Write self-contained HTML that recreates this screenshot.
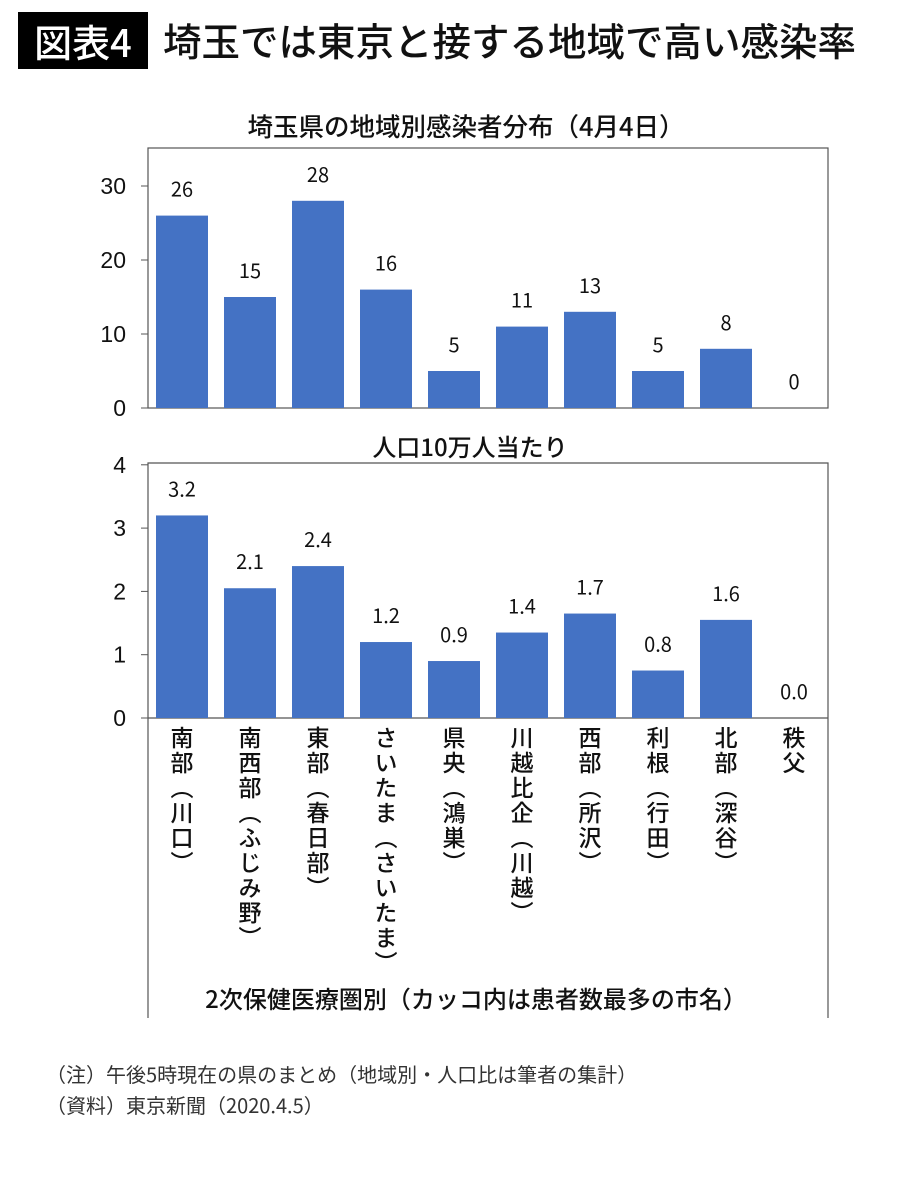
<!DOCTYPE html>
<html><head><meta charset="utf-8">
<style>
body{margin:0;background:#fff;width:900px;height:1200px;position:relative;overflow:hidden;font-family:"Liberation Sans","Noto Sans CJK JP",sans-serif;color:#111}
.abs{position:absolute}
.vl{position:absolute;writing-mode:vertical-rl;font-size:23px;line-height:25px;letter-spacing:2px;font-family:"Noto Sans CJK JP",sans-serif;font-weight:500;text-orientation:upright}
</style></head><body>
<div class="abs" style="left:18px;top:12px;width:130px;height:57px;background:#000;color:#fff;font-size:38px;line-height:57px;text-align:center;font-family:'Noto Sans CJK JP',sans-serif;font-weight:500">図表4</div>
<div class="abs" style="left:163px;top:12px;height:57px;line-height:57px;font-size:38.5px;font-family:'Noto Sans CJK JP',sans-serif;font-weight:500;color:#111">埼玉では東京と接する地域で高い感染率</div>
<svg id="chart" class="abs" style="left:0;top:0" width="900" height="1200"></svg>
<div id="labels"></div>
<div class="abs" style="left:46px;top:1059px;font-size:20px;color:#333;font-family:'Noto Sans CJK JP',sans-serif">（注）午後5時現在の県のまとめ（地域別・人口比は筆者の集計）</div>
<div class="abs" style="left:46px;top:1090px;font-size:20px;color:#333;font-family:'Noto Sans CJK JP',sans-serif">（資料）東京新聞（2020.4.5）</div>
<script>
const categories=["南部（川口）","南西部（ふじみ野）","東部（春日部）","さいたま（さいたま）","県央（鴻巣）","川越比企（川越）","西部（所沢）","利根（行田）","北部（深谷）","秩父"];
const cases=[26,15,28,16,5,11,13,5,8,0];
const per100k=[3.2,2.05,2.4,1.2,0.9,1.35,1.65,0.75,1.55,0.0];
const per100kLabels=["3.2","2.1","2.4","1.2","0.9","1.4","1.7","0.8","1.6","0.0"];
const ticksTop=[0,10,20,30];
const ticksBottom=[0,1,2,3,4];

const NS="http://www.w3.org/2000/svg";
const svg=document.getElementById('chart');
const F='"Liberation Sans","Noto Sans CJK JP",sans-serif';
const FJ='"Noto Sans CJK JP",sans-serif';
function mk(t,a){const e=document.createElementNS(NS,t);for(const k in a)e.setAttribute(k,a[k]);svg.appendChild(e);return e;}
const X0=148,X1=828,step=(X1-X0)/categories.length,BW=52;
const xC=i=>X0+step*(i+0.5);

function panel(cfg){
  const y=v=>cfg.base-(v/cfg.unit)*cfg.px;
  const t=mk('text',{x:cfg.titleX,y:cfg.titleY,'text-anchor':'middle','font-size':cfg.titleSize,'font-weight':500,'font-family':FJ,fill:'#111'});
  t.textContent=cfg.title;
  
  
  cfg.ticks.forEach(v=>{
    const tl=mk('text',{x:126,y:y(v)+8,'text-anchor':'end','font-size':23,'font-family':F,fill:'#111'});
    tl.textContent=v;
    
    
    mk('line',{x1:141,x2:X0,y1:y(v),y2:y(v),stroke:'#555','stroke-width':1});
  });
  cfg.values.forEach((v,i)=>{
    const h=(v/cfg.unit)*cfg.px;
    const r=mk('rect',{x:xC(i)-BW/2,y:cfg.base-h,width:BW,height:h,fill:'#4472c4'});
    
    
    const l=mk('text',{x:xC(i),y:cfg.base-h-19,'text-anchor':'middle','font-size':20,'font-family':FJ,fill:'#111'});
    l.textContent=cfg.labels[i];
    
    
  });
}
mk('rect',{x:X0,y:148,width:X1-X0,height:260,fill:'none',stroke:'#555','stroke-width':1.2});
panel({key:'cases',title:'埼玉県の地域別感染者分布（4月4日）',titleX:466,titleY:136,titleSize:25.5,base:408,unit:10,px:74,ticks:ticksTop,values:cases,labels:cases.map(String)});
mk('polyline',{points:`${X0},1018 ${X0},463 ${X1},463 ${X1},1018`,fill:'none',stroke:'#555','stroke-width':1.2});
mk('line',{x1:X0,x2:X1,y1:718,y2:718,stroke:'#555','stroke-width':1.2});
panel({key:'per100k',title:'人口10万人当たり',titleX:470,titleY:456,titleSize:24,base:718,unit:1,px:63.3,ticks:ticksBottom,values:per100k,labels:per100kLabels});
const xt=mk('text',{x:476,y:1008,'text-anchor':'middle','font-size':24,'font-weight':500,'font-family':FJ,fill:'#111'});
xt.textContent='2次保健医療圏別（カッコ内は患者数最多の市名）';



const lab=document.getElementById('labels');
categories.forEach((c,i)=>{
  const d=document.createElement('div');
  d.className='vl';
  d.textContent=c;
  d.style.left=(xC(i)-13)+'px';
  d.style.top='726px';
  
  
  lab.appendChild(d);
});
</script>
</body></html>
